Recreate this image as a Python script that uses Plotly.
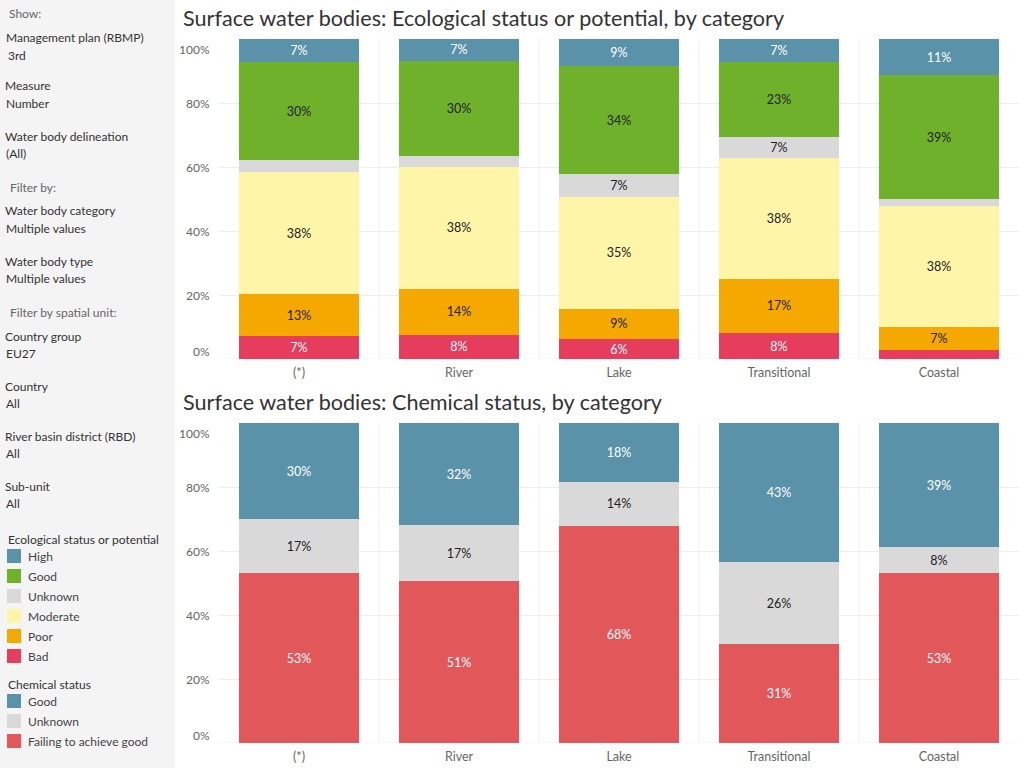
import plotly.graph_objects as go

# ---------------- data ----------------
categories = ["(*)", "River", "Lake", "Transitional", "Coastal"]

eco_labels = ["Bad", "Poor", "Moderate", "Unknown", "Good", "High"]
eco_bad = [7.2, 7.6, 6.25, 8.1, 2.8]
eco_poor = [13.1, 14.2, 9.4, 17.0, 7.2]
eco_moderate = [38.1, 38.3, 35.1, 37.7, 37.8]
eco_unknown = [3.9, 3.4, 7.1, 6.6, 2.2]
eco_good = [30.4, 29.7, 33.6, 23.4, 38.6]
eco_high = [7.2, 6.9, 8.6, 7.2, 11.4]

chem_labels = ["Failing to achieve good", "Unknown", "Good"]
chem_failing = [53.1, 50.6, 67.8, 30.9, 53.1]
chem_unknown = [16.9, 17.4, 13.8, 25.6, 8.1]
chem_good = [30.0, 32.0, 18.4, 43.4, 38.8]

y_ticks = [0, 20, 40, 60, 80, 100]

# ---------------- styles ----------------
FONT = "Lato"
eco_colors = ["#e63d5e", "#f5a800", "#fff5a8", "#d9d9d9", "#70b12c", "#5a93a9"]
eco_textcolors = ["white", "#222", "#222", "#222", "#222", "white"]
chem_colors = ["#e1575a", "#d9d9d9", "#5a93a9"]
chem_textcolors = ["white", "#222", "white"]

W, H = 1024, 768
def px_x(x):
    return x / W
def px_y(y):
    return 1 - y / H

fig = go.Figure()

def add_stack(series_list, colors, tcolors, names, xa, ya):
    for vals, c, tc, n in zip(series_list, colors, tcolors, names):
        txt = [f"{round(v)}%" if v >= 5 else "" for v in vals]
        fig.add_trace(go.Bar(
            x=categories, y=vals, name=n, marker=dict(color=c, line=dict(width=0)),
            width=0.75, text=txt, textposition="inside", insidetextanchor="middle",
            textangle=0, constraintext="none",
            textfont=dict(family=FONT, size=12.5, color=tc),
            xaxis=xa, yaxis=ya, showlegend=False, hoverinfo="skip"))

add_stack([eco_bad, eco_poor, eco_moderate, eco_unknown, eco_good, eco_high],
          eco_colors, eco_textcolors, eco_labels, "x", "y")
add_stack([chem_failing, chem_unknown, chem_good],
          chem_colors, chem_textcolors, chem_labels, "x2", "y2")

axis_common = dict(range=[0, 100], tickvals=y_ticks, showticklabels=False,
                   showgrid=True, gridcolor="#eeeeee", gridwidth=1, zeroline=False,
                   showline=False, fixedrange=True)
xaxis_common = dict(range=[-0.5, 4.5], showgrid=False, zeroline=False, showline=False,
                    ticks="", tickfont=dict(family=FONT, size=12.5, color="#666"),
                    ticklabelstandoff=4,
                    domain=[px_x(219), px_x(1019)])

fig.update_layout(
    width=W, height=H, margin=dict(l=0, r=0, t=0, b=0),
    paper_bgcolor="white", plot_bgcolor="white", barmode="stack", bargap=0.25,
    xaxis=dict(**xaxis_common, anchor="y"),
    yaxis=dict(**axis_common, domain=[px_y(359), px_y(39)], anchor="x"),
    xaxis2=dict(**xaxis_common, anchor="y2"),
    yaxis2=dict(**axis_common, domain=[px_y(743), px_y(423)], anchor="x2"),
    font=dict(family=FONT, color="#333"),
)

shapes = []
annotations = []

# left panel background
shapes.append(dict(type="rect", xref="paper", yref="paper", x0=0, x1=px_x(175), y0=0, y1=1,
                   fillcolor="#f4f4f4", line=dict(width=0), layer="below"))

# column separators
for ya in ["y", "y2"]:
    for i in range(len(categories) - 1):
        shapes.append(dict(type="line", xref="x" if ya == "y" else "x2", yref=ya,
                           x0=i + 0.5, x1=i + 0.5, y0=-1.3, y1=100,
                           line=dict(color="#eeeeee", width=1), layer="below"))
    shapes.append(dict(type="line", xref="paper", yref=ya, x0=px_x(219), x1=px_x(1019),
                       y0=0, y1=0, line=dict(color="#eeeeee", width=1), layer="below"))

# y tick labels
for ya in ["y", "y2"]:
    for t in y_ticks:
        shift = -10 if t == 100 else (8 if t == 0 else 0)
        annotations.append(dict(xref="paper", yref=ya, x=px_x(212), y=t, yshift=shift,
                                text=f"{t}%", showarrow=False, xanchor="right", yanchor="middle",
                                font=dict(family=FONT, size=12, color="#666")))

# titles
annotations.append(dict(xref="paper", yref="paper", x=px_x(181), y=px_y(18),
                        text="Surface water bodies: Ecological status or potential, by category",
                        showarrow=False, xanchor="left", yanchor="middle",
                        font=dict(family=FONT, size=21.6, color="#333")))
annotations.append(dict(xref="paper", yref="paper", x=px_x(181), y=px_y(402),
                        text="Surface water bodies: Chemical status, by category",
                        showarrow=False, xanchor="left", yanchor="middle",
                        font=dict(family=FONT, size=21.6, color="#333")))

# left panel texts
panel_items = [
    ("Show:", 7, 14, "#666"),
    ("Management plan (RBMP)", 4, 38, "#333"), ("3rd", 6, 55, "#333"),
    ("Measure", 3, 86, "#333"), ("Number", 4, 103, "#333"),
    ("Water body delineation", 3, 136, "#333"), ("(All)", 4, 153, "#333"),
    ("Filter by:", 8, 187, "#666"),
    ("Water body category", 3, 211, "#333"), ("Multiple values", 4, 228, "#333"),
    ("Water body type", 3, 261, "#333"), ("Multiple values", 4, 278, "#333"),
    ("Filter by spatial unit:", 8, 313, "#666"),
    ("Country group", 3, 336, "#333"), ("EU27", 4, 353, "#333"),
    ("Country", 3, 386, "#333"), ("All", 4, 403, "#333"),
    ("River basin district (RBD)", 3, 436, "#333"), ("All", 4, 453, "#333"),
    ("Sub-unit", 3, 486, "#333"), ("All", 4, 503, "#333"),
    ("Ecological status or potential", 6, 539, "#333"),
    ("Chemical status", 6, 684, "#333"),
]
for text, x, y, col in panel_items:
    annotations.append(dict(xref="paper", yref="paper", x=px_x(x), y=px_y(y), text=text,
                            showarrow=False, xanchor="left", yanchor="middle",
                            font=dict(family=FONT, size=12, color=col)))

# legends (top-to-bottom order)
eco_leg = list(zip(eco_labels[::-1], eco_colors[::-1]))
chem_leg = list(zip(chem_labels[::-1], chem_colors[::-1]))
for items, y0 in [(eco_leg, 556), (chem_leg, 701)]:
    for k, (lab, col) in enumerate(items):
        yc = y0 + 20 * k
        shapes.append(dict(type="rect", xref="paper", yref="paper",
                           x0=px_x(7), x1=px_x(21), y0=px_y(yc + 7), y1=px_y(yc - 7),
                           fillcolor=col, line=dict(width=0)))
        annotations.append(dict(xref="paper", yref="paper", x=px_x(26), y=px_y(yc), text=lab,
                                showarrow=False, xanchor="left", yanchor="middle",
                                font=dict(family=FONT, size=12, color="#444")))

fig.update_layout(shapes=shapes, annotations=annotations)
fig.write_html("out.html")
